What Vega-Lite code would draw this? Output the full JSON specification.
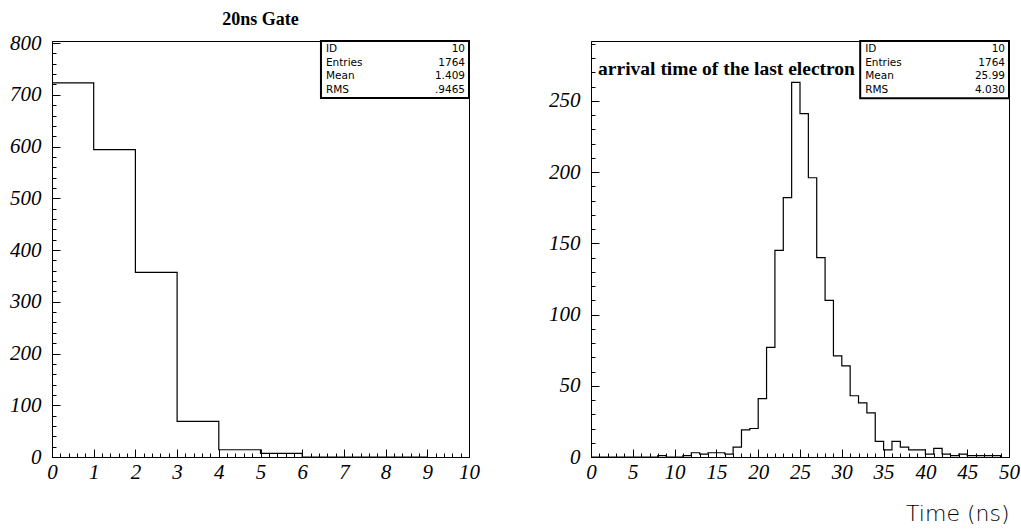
{
  "$schema": "https://vega.github.io/schema/vega-lite/v6.json",
  "background": "white",
  "padding": {"left": 9, "top": 10, "right": 10, "bottom": 4},
  "spacing": 122,
  "bounds": "flush",
  "config": {
    "view": {"stroke": "black", "strokeWidth": 1},
    "axis": {
      "grid": false,
      "domainColor": "black",
      "domainWidth": 1,
      "tickColor": "black",
      "tickWidth": 1,
      "labelColor": "black",
      "labelFont": "Liberation Serif",
      "labelFontStyle": "italic",
      "labelFontSize": 21,
      "labelOverlap": false,
      "labelFlush": false,
      "labelBound": false,
      "labelPadding": 19
    }
  },
  "hconcat": [
    {
      "width": 417,
      "height": 416,
      "title": {"text": "20ns Gate", "font": "Liberation Serif", "fontSize": 18, "fontWeight": "bold", "color": "black", "offset": 3, "anchor": "middle"},
      "layer": [
        {
          "data": {"values": [
            {"t": 0, "n": 723}, {"t": 1, "n": 594}, {"t": 2, "n": 357}, {"t": 3, "n": 69}, {"t": 4, "n": 14},
            {"t": 5, "n": 7}, {"t": 6, "n": 0}, {"t": 7, "n": 0}, {"t": 8, "n": 0}, {"t": 9, "n": 0}
          ]},
          "mark": {"type": "line", "interpolate": "step-after", "color": "black", "strokeWidth": 1.2},
          "encoding": {
            "x": {"field": "t", "type": "quantitative",
              "scale": {"domain": [0, 10], "nice": false, "zero": false},
              "axis": {"title": null, "tickCount": 50,
                "tickSize": {"condition": {"test": "datum.value % 1 === 0", "value": -8}, "value": -4},
                "labelPadding": 12,
                "labelExpr": "datum.value % 1 === 0 ? format(datum.value, 'd') : ''"}},
            "y": {"field": "n", "type": "quantitative",
              "scale": {"domain": [0, 804], "nice": false},
              "axis": {"title": null, "tickCount": 40,
                "tickSize": {"condition": {"test": "datum.value % 100 === 0", "value": -8}, "value": -4},
                "labelExpr": "datum.value % 100 === 0 ? format(datum.value, 'd') : ''"}}
          }
        },
        {
          "data": {"values": [{"names": "ID\nEntries\nMean\nRMS", "vals": "10\n1764\n1.409\n.9465"}]},
          "layer": [
            {
              "mark": {"type": "rect", "fill": "white", "stroke": "black", "strokeWidth": 2},
              "encoding": {
                "x": {"datum": 6.45, "type": "quantitative"}, "x2": {"datum": 10},
                "y": {"datum": 694, "type": "quantitative"}, "y2": {"datum": 804}
              }
            },
            {
              "mark": {"type": "text", "align": "left", "baseline": "top", "font": "DejaVu Sans", "fontSize": 10.5, "lineHeight": 13.5, "lineBreak": "\n", "dx": 5, "dy": 3, "color": "black"},
              "encoding": {
                "x": {"datum": 6.45, "type": "quantitative"},
                "y": {"datum": 804, "type": "quantitative"},
                "text": {"field": "names"}
              }
            },
            {
              "mark": {"type": "text", "align": "right", "baseline": "top", "font": "DejaVu Sans", "fontSize": 10.5, "lineHeight": 13.5, "lineBreak": "\n", "dx": -4, "dy": 3, "color": "black"},
              "encoding": {
                "x": {"datum": 10, "type": "quantitative"},
                "y": {"datum": 804, "type": "quantitative"},
                "text": {"field": "vals"}
              }
            }
          ]
        }
      ]
    },
    {
      "width": 418,
      "height": 416,
      "layer": [
        {
          "data": {"values": [
            {"t": 0, "n": 0}, {"t": 1, "n": 0}, {"t": 2, "n": 0}, {"t": 3, "n": 0}, {"t": 4, "n": 0},
            {"t": 5, "n": 0}, {"t": 6, "n": 0}, {"t": 7, "n": 0}, {"t": 8, "n": 1}, {"t": 9, "n": 0},
            {"t": 10, "n": 0}, {"t": 11, "n": 1}, {"t": 12, "n": 3}, {"t": 13, "n": 2}, {"t": 14, "n": 3},
            {"t": 15, "n": 3}, {"t": 16, "n": 2}, {"t": 17, "n": 7}, {"t": 18, "n": 19}, {"t": 19, "n": 20},
            {"t": 20, "n": 41}, {"t": 21, "n": 77}, {"t": 22, "n": 145}, {"t": 23, "n": 182}, {"t": 24, "n": 263},
            {"t": 25, "n": 241}, {"t": 26, "n": 196}, {"t": 27, "n": 140}, {"t": 28, "n": 110}, {"t": 29, "n": 71},
            {"t": 30, "n": 64}, {"t": 31, "n": 43}, {"t": 32, "n": 38}, {"t": 33, "n": 31}, {"t": 34, "n": 11},
            {"t": 35, "n": 5}, {"t": 36, "n": 11}, {"t": 37, "n": 7}, {"t": 38, "n": 5}, {"t": 39, "n": 5},
            {"t": 40, "n": 2}, {"t": 41, "n": 6}, {"t": 42, "n": 2}, {"t": 43, "n": 1}, {"t": 44, "n": 2},
            {"t": 45, "n": 1}, {"t": 46, "n": 1}, {"t": 47, "n": 1}, {"t": 48, "n": 1}, {"t": 49, "n": 0}
          ]},
          "mark": {"type": "line", "interpolate": "step-after", "color": "black", "strokeWidth": 1.2},
          "encoding": {
            "x": {"field": "t", "type": "quantitative",
              "scale": {"domain": [0, 50], "nice": false, "zero": false},
              "axis": {"title": "Time (ns)", "titleFont": "DejaVu Sans", "titleFontWeight": 200, "titleFontSize": 22,
                "titleColor": "black", "titleAnchor": "end", "titlePadding": 17,
                "tickCount": 50,
                "tickSize": {"condition": {"test": "datum.value % 5 === 0", "value": -8}, "value": -4},
                "labelPadding": 12,
                "labelExpr": "datum.value % 5 === 0 ? format(datum.value, 'd') : ''"}},
            "y": {"field": "n", "type": "quantitative",
              "scale": {"domain": [0, 292], "nice": false},
              "axis": {"title": null, "tickCount": 29,
                "tickSize": {"condition": {"test": "datum.value % 50 === 0", "value": -8}, "value": -4},
                "labelExpr": "datum.value % 50 === 0 ? format(datum.value, 'd') : ''"}}
          }
        },
        {
          "data": {"values": [{"caption": "arrival time of the last electron"}]},
          "mark": {"type": "text", "align": "left", "baseline": "middle", "font": "Liberation Serif", "fontSize": 19.5, "fontWeight": "bold", "color": "black"},
          "encoding": {
            "x": {"datum": 0.85, "type": "quantitative"},
            "y": {"datum": 272.5, "type": "quantitative"},
            "text": {"field": "caption"}
          }
        },
        {
          "data": {"values": [{"names": "ID\nEntries\nMean\nRMS", "vals": "10\n1764\n25.99\n4.030"}]},
          "layer": [
            {
              "mark": {"type": "rect", "fill": "white", "stroke": "black", "strokeWidth": 2},
              "encoding": {
                "x": {"datum": 32.2, "type": "quantitative"}, "x2": {"datum": 50},
                "y": {"datum": 251.8, "type": "quantitative"}, "y2": {"datum": 292}
              }
            },
            {
              "mark": {"type": "text", "align": "left", "baseline": "top", "font": "DejaVu Sans", "fontSize": 10.5, "lineHeight": 13.5, "lineBreak": "\n", "dx": 5, "dy": 3, "color": "black"},
              "encoding": {
                "x": {"datum": 32.2, "type": "quantitative"},
                "y": {"datum": 292, "type": "quantitative"},
                "text": {"field": "names"}
              }
            },
            {
              "mark": {"type": "text", "align": "right", "baseline": "top", "font": "DejaVu Sans", "fontSize": 10.5, "lineHeight": 13.5, "lineBreak": "\n", "dx": -4, "dy": 3, "color": "black"},
              "encoding": {
                "x": {"datum": 50, "type": "quantitative"},
                "y": {"datum": 292, "type": "quantitative"},
                "text": {"field": "vals"}
              }
            }
          ]
        }
      ]
    }
  ]
}
